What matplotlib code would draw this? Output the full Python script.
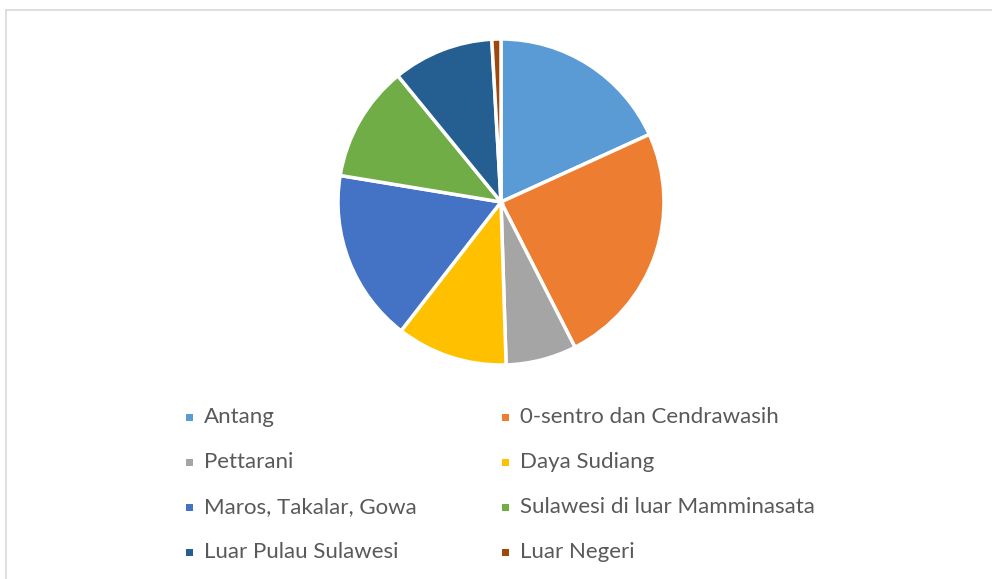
import matplotlib.pyplot as plt
from matplotlib.patches import Rectangle
from matplotlib.lines import Line2D

plt.rcParams['font.family'] = ['Lato', 'DejaVu Sans']

labels = ['Antang', '0-sentro dan Cendrawasih', 'Pettarani', 'Daya Sudiang',
          'Maros, Takalar, Gowa', 'Sulawesi di luar Mamminasata',
          'Luar Pulau Sulawesi', 'Luar Negeri']
shares = [18.2, 24.3, 7.0, 11.0, 17.1, 11.5, 10.0, 0.9]
colors = ['#5B9BD5', '#ED7D31', '#A5A5A5', '#FFC000',
          '#4472C4', '#70AD47', '#255E91', '#9E480E']

fig = plt.figure(figsize=(9.92, 5.79), dpi=100)

# chart border (top and left visible)
fig.add_artist(Line2D([6 / 992, 6 / 992], [0, 1 - 10 / 579], color='#D9D9D9', lw=1.2))
fig.add_artist(Line2D([6 / 992, 1], [1 - 10 / 579, 1 - 10 / 579], color='#D9D9D9', lw=1.2))

cx, cy, r = 501 / 992, 1 - 202 / 579, 163
ax = fig.add_axes([cx - r / 992, cy - r / 579, 2 * r / 992, 2 * r / 579])
ax.pie(shares, colors=colors, startangle=90, counterclock=False,
       wedgeprops=dict(edgecolor='white', linewidth=2.5))
ax.set_xlim(-1, 1)
ax.set_ylim(-1, 1)
ax.axis('off')

# legend, two columns filled row by row
rows_y = [417, 462, 507, 552]
cols_x = [186, 502]
for i, (lab, c) in enumerate(zip(labels, colors)):
    x = cols_x[i % 2]
    y = rows_y[i // 2]
    fig.add_artist(Rectangle((x / 992, 1 - (y + 4) / 579), 7 / 992, 7 / 579,
                             facecolor=c, edgecolor='none', transform=fig.transFigure))
    fig.text((x + 18) / 992, 1 - y / 579, lab, fontsize=16, color='#595959',
             ha='left', va='center')

fig.savefig('out.png', dpi=100)
